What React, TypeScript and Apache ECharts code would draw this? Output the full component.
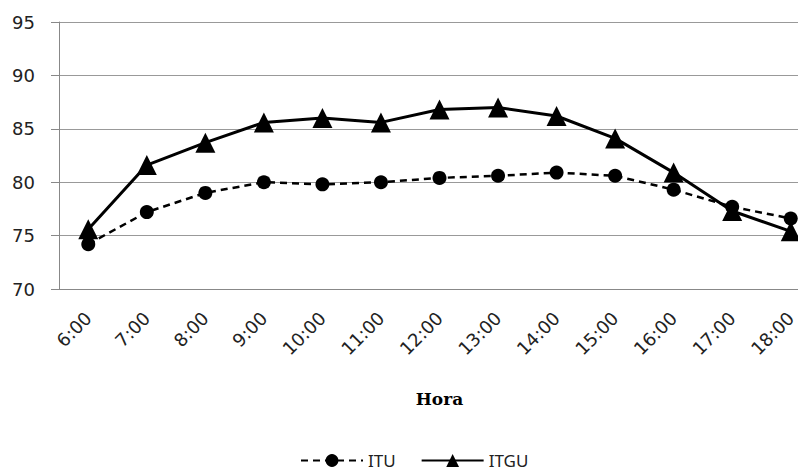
import React, { useEffect, useRef } from "react";
import * as echarts from "echarts";

const hours = ["6:00", "7:00", "8:00", "9:00", "10:00", "11:00", "12:00", "13:00", "14:00", "15:00", "16:00", "17:00", "18:00"];
const itu = [74.2, 77.2, 79.0, 80.0, 79.8, 80.0, 80.4, 80.6, 80.9, 80.6, 79.3, 77.7, 76.6];
const itgu = [75.6, 81.6, 83.7, 85.6, 86.0, 85.6, 86.8, 87.0, 86.2, 84.1, 80.9, 77.3, 75.4];

export default function App() {
  const ref = useRef<HTMLDivElement>(null);
  useEffect(() => {
    const chart = echarts.init(ref.current!, null, { renderer: "svg" });
    chart.setOption({
      animation: false,
      backgroundColor: "#ffffff",
      grid: { left: 59, top: 22, right: -22, bottom: 183, containLabel: false, outerBoundsMode: "none" },
      legend: {
        top: 452,
        left: 300,
        padding: 0,
        itemWidth: 62,
        itemHeight: 16,
        itemGap: 25,
        textStyle: { fontFamily: "Noto Sans", fontSize: 17, lineHeight: 17, color: "#222" },
        data: ["ITU", "ITGU"],
      },
      xAxis: {
        type: "category",
        data: hours,
        boundaryGap: true,
        name: "Hora",
        nameLocation: "middle",
        nameGap: 101,
        nameTextStyle: { fontFamily: "DejaVu Serif", fontWeight: "bold", fontSize: 17, color: "#000" },
        axisLine: { lineStyle: { color: "#888", width: 1 } },
        axisTick: { alignWithLabel: true, length: 6, lineStyle: { color: "#888" } },
        axisLabel: { rotate: 45, fontFamily: "DejaVu Sans", fontSize: 18, color: "#222", margin: 26, interval: 0 },
      },
      yAxis: {
        type: "value",
        min: 70,
        max: 95,
        interval: 5,
        axisLine: { show: true, lineStyle: { color: "#888", width: 1 } },
        axisTick: { show: true, length: 8, lineStyle: { color: "#888" } },
        axisLabel: { fontFamily: "DejaVu Sans", fontSize: 18, color: "#222", margin: 24 },
        splitLine: { lineStyle: { color: "#999", width: 1 } },
      },
      series: [
        {
          name: "ITU",
          type: "line",
          data: itu,
          symbol: "circle",
          symbolSize: 14,
          itemStyle: { color: "#000" },
          lineStyle: { color: "#000", width: 2.5, type: [7, 5] },
        },
        {
          name: "ITGU",
          type: "line",
          data: itgu,
          symbol: "triangle",
          symbolSize: 20,
          itemStyle: { color: "#000" },
          lineStyle: { color: "#000", width: 3 },
        },
      ],
    });
    return () => chart.dispose();
  }, []);
  return <div ref={ref} style={{ position: "fixed", left: 0, top: 0, width: 798, height: 472 }} />;
}
